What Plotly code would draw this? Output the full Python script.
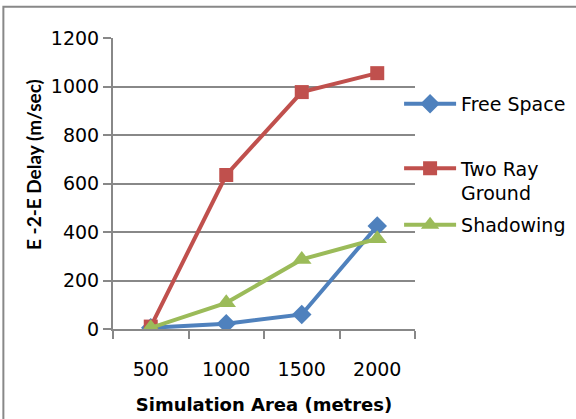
import plotly.graph_objects as go

# Simulation area sizes (metres) and end-to-end delay per propagation model
areas = ["500", "1000", "1500", "2000"]
free_space = [5, 22, 60, 425]
two_ray_ground = [10, 635, 977, 1055]
shadowing = [5, 108, 287, 372]

series = [
    ("Free Space", free_space, "#4F81BD", "diamond", 15, "legend"),
    ("Two Ray<br>Ground", two_ray_ground, "#C0504D", "square", 14, "legend2"),
    ("Shadowing", shadowing, "#9BBB59", "triangle-up", 17, "legend3"),
]

FONT = "DejaVu Sans, sans-serif"
TITLE_FONT = "Lato, sans-serif"
W, H = 576, 419
L, R, T, B = 113, 161, 38, 90


def legend_box(y_px, valign="middle"):
    # legends are positioned in container coordinates (fractions of the figure)
    return dict(
        xref="container", yref="container",
        x=406 / W - 0.012, y=1 - y_px / H, xanchor="left", yanchor="middle",
        font=dict(family=FONT, size=19, color="black"),
        valign=valign, bgcolor="rgba(0,0,0,0)", itemwidth=52,
    )


fig = go.Figure()
for name, vals, color, symbol, size, leg in series:
    fig.add_trace(go.Scatter(
        x=areas, y=vals, name=name, mode="lines+markers",
        line=dict(color=color, width=4),
        marker=dict(symbol=symbol, size=size, color=color),
        legend=leg,
    ))

fig.update_layout(
    width=W, height=H,
    margin=dict(l=L, r=R, t=T, b=B, autoexpand=False),
    paper_bgcolor="white", plot_bgcolor="white",
    font=dict(family=FONT, size=19, color="black"),
    showlegend=True,
    legend=legend_box(104),
    legend2=legend_box(181, "top"),
    legend3=legend_box(225),
    xaxis=dict(
        type="category", tickson="boundaries", ticks="outside", ticklen=8,
        tickcolor="#888888", tickwidth=2,
        showline=True, linecolor="#888888", linewidth=2,
        showgrid=False, range=[-0.5, 3.5], automargin=False,
        tickfont=dict(family=FONT, size=19), ticklabelstandoff=22,
        title=dict(text="<b>Simulation Area (metres)</b>",
                   font=dict(family=FONT, size=18), standoff=20),
    ),
    yaxis=dict(
        range=[0, 1200], dtick=200, ticks="outside", ticklen=8,
        tickcolor="#888888", tickwidth=2,
        showline=True, linecolor="#888888", linewidth=2,
        showgrid=True, gridcolor="#888888", gridwidth=2,
        zeroline=False, automargin=False,
        tickfont=dict(family=FONT, size=19),
    ),
)

# Vertical axis title, placed in figure pixels converted to paper fractions
pw, ph = W - L - R, H - T - B
fig.add_annotation(
    text="<b>E -2-E Delay (m/sec)</b>", textangle=-90,
    xref="paper", yref="paper",
    x=(33 - L) / pw, y=(H - B - 165) / ph,
    xanchor="center", yanchor="middle", showarrow=False,
    font=dict(family=TITLE_FONT, size=19, color="black"),
)

# Chart frame around the whole figure
fig.add_shape(type="rect", xref="paper", yref="paper",
              x0=-0.363, x1=1.6, y0=-0.4, y1=1.107,
              line=dict(color="#888888", width=2), layer="below")

fig.write_html("out.html")
